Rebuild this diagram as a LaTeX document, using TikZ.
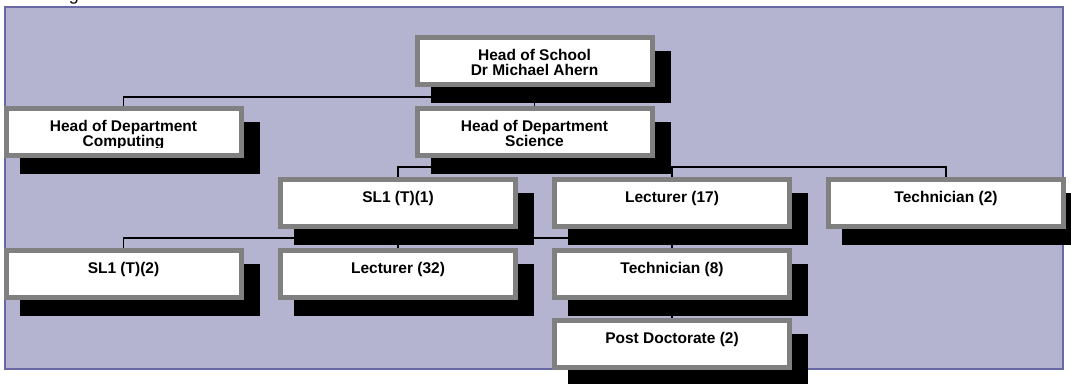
\documentclass[tikz,border=0pt]{standalone}
\usepackage{fontspec}
\setmainfont{Liberation Sans}
\pgfdeclarelayer{bglayer}
\pgfdeclarelayer{linelayer}
\pgfdeclarelayer{shadowlayer}
\pgfsetlayers{bglayer,linelayer,shadowlayer,main}
\definecolor{panelfill}{RGB}{180,180,208}
\definecolor{panelline}{RGB}{104,104,164}
\definecolor{boxline}{RGB}{128,128,128}
\newcommand\orgshadow[1]{\fill[black] ([xshift=16pt,yshift=-16pt]#1.north west) rectangle ([xshift=16pt,yshift=-16pt]#1.south east);}
\tikzset{
 orgbox/.style={draw=boxline, fill=white, line width=5pt, minimum width=235pt, minimum height=47pt, inner sep=0pt},
 orgtext/.style={font=\fontsize{15.5}{15.5}\selectfont\bfseries, align=center, inner sep=0pt, anchor=north},
 link/.style={draw=black, line width=1.6pt},
}
\begin{document}
\begin{tikzpicture}[x=1pt,y=-1pt]
\useasboundingbox (0,0) rectangle (1071,383);
\begin{pgfonlayer}{bglayer}
\draw[panelline, fill=panelfill, line width=2pt] (5,7) rectangle (1063,369);
\end{pgfonlayer}
\node[font=\fontsize{18}{18}\selectfont, anchor=base, inner sep=0pt] (cut) at (74,0) {g};
% boxes
\node[orgbox] (hos) at (534.5,61) {};
\node[orgbox] (comp) at (123.5,132) {};
\node[orgbox] (sci) at (534.5,132) {};
\node[orgbox] (sl1a) at (398,203) {};
\node[orgbox] (lec17) at (672,203) {};
\node[orgbox] (tech2) at (946,203) {};
\node[orgbox] (sl1b) at (123.5,274) {};
\node[orgbox] (lec32) at (398,274) {};
\node[orgbox] (tech8) at (672,274) {};
\node[orgbox] (post) at (672,344) {};
% texts
\node[orgtext] (hos-t) at ([yshift=-14pt]hos.north) {Head of School\\Dr Michael Ahern};
\begin{scope}
\clip ([yshift=-2.5pt]comp.north west) rectangle ([yshift=11pt]comp.south east);
\node[orgtext] (comp-t) at ([yshift=-14pt]comp.north) {Head of Department\\Computing};
\end{scope}
\node[orgtext] (sci-t) at ([yshift=-14pt]sci.north) {Head of Department\\Science};
\node[orgtext] (sl1a-t) at ([yshift=-14pt]sl1a.north) {SL1 (T)(1)};
\node[orgtext] (lec17-t) at ([yshift=-14pt]lec17.north) {Lecturer (17)};
\node[orgtext] (tech2-t) at ([yshift=-14pt]tech2.north) {Technician (2)};
\node[orgtext] (sl1b-t) at ([yshift=-14pt]sl1b.north) {SL1 (T)(2)};
\node[orgtext] (lec32-t) at ([yshift=-14pt]lec32.north) {Lecturer (32)};
\node[orgtext] (tech8-t) at ([yshift=-14pt]tech8.north) {Technician (8)};
\node[orgtext] (post-t) at ([yshift=-14pt]post.north) {Post Doctorate (2)};
% shadows
\begin{pgfonlayer}{shadowlayer}
\orgshadow{hos}\orgshadow{comp}\orgshadow{sci}\orgshadow{sl1a}\orgshadow{lec17}
\orgshadow{tech2}\orgshadow{sl1b}\orgshadow{lec32}\orgshadow{tech8}\orgshadow{post}
\end{pgfonlayer}
% connectors
\coordinate (b1) at (0,97);
\coordinate (b2) at (0,167);
\coordinate (b3) at (0,238);
\begin{pgfonlayer}{linelayer}
\draw[link] (hos.south) -- (hos.south |- b1) -| (comp.north);
\draw[link] (hos.south |- b1) -- (sci.north);
\draw[link] (sci.south) -- (sci.south |- b2) -| (sl1a.north);
\draw[link] (sci.south |- b2) -| (lec17.north);
\draw[link] (sci.south |- b2) -| (tech2.north);
\draw[link] (sl1a.south) -- (sl1a.south |- b3) -| (sl1b.north);
\draw[link] (sl1a.south |- b3) -- (lec32.north);
\draw[link] (sl1a.south |- b3) -| (tech8.north);
\draw[link] (tech8.south) -- (post.north);
\end{pgfonlayer}
\end{tikzpicture}
\end{document}
